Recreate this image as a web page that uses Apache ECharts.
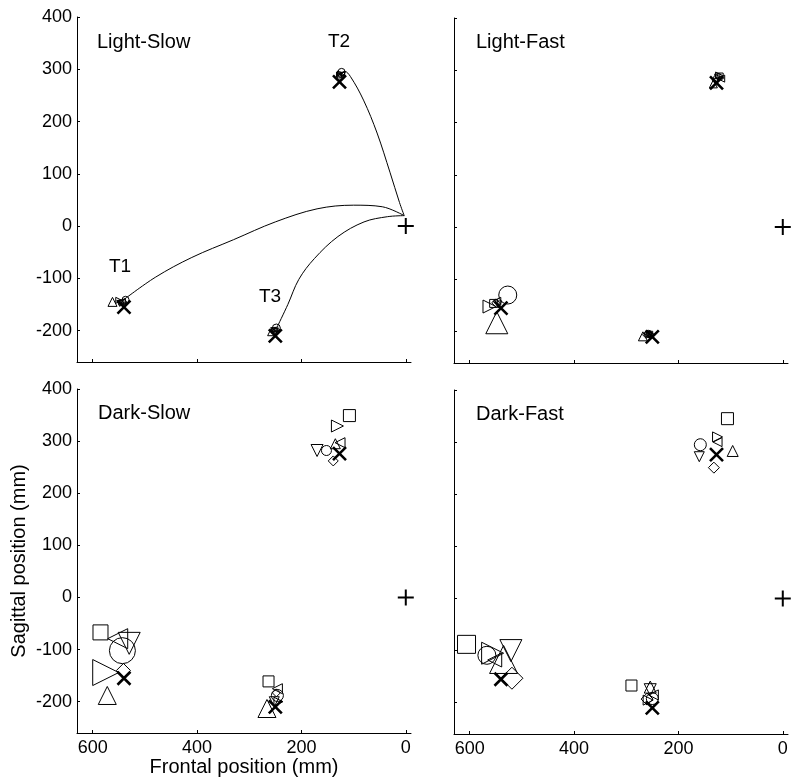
<!DOCTYPE html>
<html>
<head>
<meta charset="utf-8">
<script src="https://cdn.jsdelivr.net/npm/echarts@6/dist/echarts.min.js"></script>
<style>html,body{margin:0;padding:0;background:#fff}#c{width:792px;height:781px}</style>
</head>
<body>
<div id="c"></div>
<script>
// ---------- data ----------
const panelNames = ['Light-Slow', 'Light-Fast', 'Dark-Slow', 'Dark-Fast'];
const targetNames = ['T1', 'T2', 'T3'];
const targets = [[540, -155], [127, 276], [250, -210]];
const startPoint = [[0, 0]];
const xTicks = [0, 200, 400, 600];
const yTicks = [-200, -100, 0, 100, 200, 300, 400];

// hand paths (Light-Slow)
const pathT1 = [[3,20],[45,37],[100,40],[170,33],[250,8],[330,-26],[410,-60],[480,-98],[542,-142]];
const pathT2 = [[3,20],[12,45],[30,102],[55,178],[81,241],[106,286],[117,296],[124,293]];
const pathT3 = [[3,20],[35,18],[80,8],[130,-20],[175,-62],[205,-102],[226,-150],[246,-192]];

// subject endpoints: [panel, frontal, sagittal, spread]
const circles = [
  [0,537,-141,7],[0,123,295,7],[0,248,-195,8],
  [1,527,-130,18],[1,127,285,6],[1,258,-204,7],
  [2,543,-102,26],[2,246,-188,12],[2,152,282,10],
  [3,567,-109,18],[3,250,-192,12],[3,158,295,12]
];
const squares = [
  [0,545,-146,5],[0,128,290,5],[0,252,-200,5],
  [1,554,-146,8],[1,120,289,6],[1,255,-205,6],
  [2,585,-67,15],[2,263,-161,11],[2,108,349,12],
  [3,606,-88,18],[3,290,-167,11],[3,106,345,12]
];
const diamonds = [
  [0,540,-145,6],[0,125,289,6],[0,250,-200,6],
  [1,550,-145,8],[1,128,280,7],[1,262,-206,7],
  [2,541,-140,14],[2,248,-183,8],[2,139,262,10],
  [3,519,-153,22],[3,260,-193,12],[3,132,251,11]
];
const trianglesUp = [
  [0,562,-145,9],[0,127,287,6],[0,258,-203,7],
  [1,548,-183,22],[1,133,274,8],[1,268,-209,9],
  [2,572,-188,18],[2,266,-213,18],[2,135,295,10],
  [3,535,-117,28],[3,254,-170,12],[3,96,283,11]
];
const trianglesDown = [
  [0,548,-148,6],[0,121,289,5],[0,254,-199,5],
  [1,545,-148,7],[1,125,287,6],[1,256,-207,6],
  [2,530,-88,22],[2,252,-200,10],[2,170,282,12],
  [3,521,-100,22],[3,254,-175,12],[3,160,272,10]
];
const trianglesLeft = [
  [0,543,-144,6],[0,122,291,5],[0,250,-197,5],
  [1,548,-142,8],[1,118,284,7],[1,260,-204,6],
  [2,552,-79,20],[2,246,-175,10],[2,126,297,10],
  [3,552,-118,14],[3,248,-185,10],[3,125,300,9]
];
const trianglesRight = [
  [0,550,-142,6],[0,126,292,5],[0,246,-198,5],
  [1,562,-152,13],[1,122,290,7],[1,252,-205,6],
  [2,575,-144,26],[2,244,-200,9],[2,131,329,12],
  [3,556,-105,22],[3,258,-195,10],[3,125,310,10]
];

// ---------- chart ----------
const FONT = 'Liberation Sans, Arial, sans-serif';
const grids = [
  {left: 77, top: 17, width: 334, height: 345},
  {left: 454, top: 18, width: 334, height: 345},
  {left: 77, top: 389, width: 334, height: 344},
  {left: 454, top: 390, width: 334, height: 344}
];
const xAxes = [], yAxes = [];
for (let g = 0; g < 4; g++) {
  const bottom = g >= 2, left = g % 2 === 0;
  xAxes.push({
    type: 'value', gridIndex: g, inverse: true, min: -10, max: 630,
    axisLine: {show: true, onZero: false, lineStyle: {color: '#000', width: 1}},
    axisTick: {show: true, inside: true, length: 3, customValues: xTicks, lineStyle: {color: '#000'}},
    axisLabel: {show: bottom, customValues: xTicks, color: '#000', fontSize: 18, fontFamily: FONT, margin: 6},
    splitLine: {show: false},
    name: g === 2 ? 'Frontal position (mm)' : '',
    nameLocation: 'middle', nameGap: 24,
    nameTextStyle: {color: '#000', fontSize: 20, fontFamily: FONT}
  });
  yAxes.push({
    type: 'value', gridIndex: g, min: -260, max: 400,
    axisLine: {show: true, onZero: false, lineStyle: {color: '#000', width: 1}},
    axisTick: {show: true, inside: true, length: 3, customValues: yTicks, lineStyle: {color: '#000'}},
    axisLabel: {show: left, customValues: yTicks, color: '#000', fontSize: 18, fontFamily: FONT, margin: 5},
    splitLine: {show: false},
    name: g === 2 ? 'Sagittal position (mm)' : '',
    nameLocation: 'middle', nameGap: 48,
    nameTextStyle: {color: '#000', fontSize: 20, fontFamily: FONT}
  });
}

const shapeDefs = [
  [circles, 'circle'],
  [squares, 'rect'],
  [diamonds, 'diamond'],
  [trianglesUp, 'path://M5,0L10,10L0,10Z'],
  [trianglesDown, 'path://M0,0L10,0L5,10Z'],
  [trianglesLeft, 'path://M10,0L10,10L0,5Z'],
  [trianglesRight, 'path://M0,0L10,5L0,10Z']
];
const series = [];
// hand paths
[pathT1, pathT2, pathT3].forEach(p => series.push({
  type: 'line', xAxisIndex: 0, yAxisIndex: 0, data: p, smooth: 0.35,
  symbol: 'none', lineStyle: {color: '#000', width: 1}, silent: true, z: 1
}));
for (let g = 0; g < 4; g++) {
  shapeDefs.forEach(([arr, sym]) => {
    series.push({
      type: 'scatter', xAxisIndex: g, yAxisIndex: g, symbol: sym,
      symbolSize: v => v[2],
      data: arr.filter(r => r[0] === g).map(r => [r[1], r[2], r[3]]),
      itemStyle: {color: 'rgba(0,0,0,0)', borderColor: '#000', borderWidth: 1, opacity: 1},
      silent: true, z: 2
    });
  });
  series.push({
    type: 'scatter', xAxisIndex: g, yAxisIndex: g,
    symbol: 'path://M0,0L10,10M10,0L0,10', symbolSize: 13,
    data: targets,
    itemStyle: {color: 'rgba(0,0,0,0)', borderColor: '#000', borderWidth: 2.6, opacity: 1},
    silent: true, z: 3
  });
  series.push({
    type: 'scatter', xAxisIndex: g, yAxisIndex: g,
    symbol: 'path://M5,0L5,10M0,5L10,5', symbolSize: 16,
    data: startPoint,
    itemStyle: {color: 'rgba(0,0,0,0)', borderColor: '#000', borderWidth: 2, opacity: 1},
    silent: true, z: 3, clip: false
  });
}

const titlePos = [[97, 42], [476, 42], [98, 413], [476, 414]];
const tLabelPos = [[109, 267], [328, 42], [259, 297]];
const graphic = [];
panelNames.forEach((n, i) => graphic.push({
  type: 'text', x: titlePos[i][0], y: titlePos[i][1],
  style: {text: n, fill: '#000', font: '20px ' + FONT, verticalAlign: 'middle'}
}));
targetNames.forEach((n, i) => graphic.push({
  type: 'text', x: tLabelPos[i][0], y: tLabelPos[i][1],
  style: {text: n, fill: '#000', font: '19px ' + FONT, verticalAlign: 'middle'}
}));

const chart = echarts.init(document.getElementById('c'), null, {renderer: 'canvas'});
chart.setOption({
  animation: false,
  backgroundColor: '#fff',
  grid: grids,
  xAxis: xAxes,
  yAxis: yAxes,
  series: series,
  graphic: graphic
});
</script>
</body>
</html>
